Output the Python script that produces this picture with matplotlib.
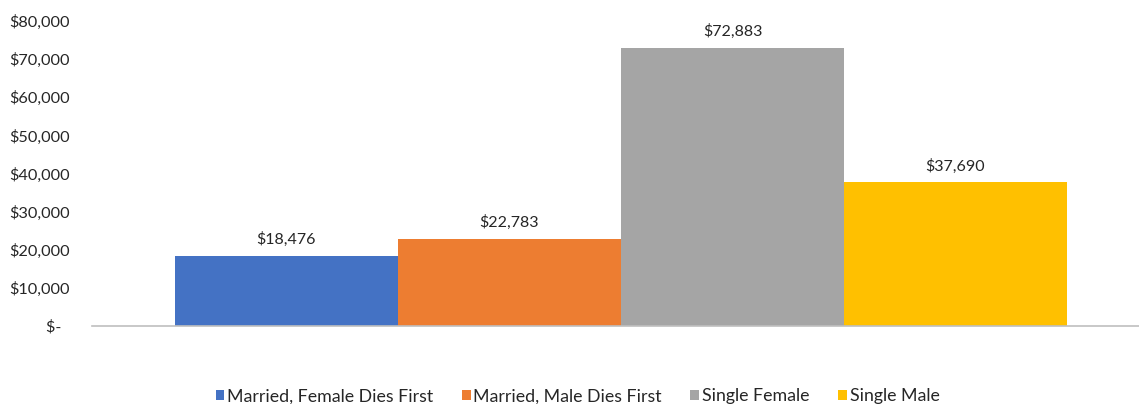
import numpy as np
import matplotlib.pyplot as plt

plt.rcParams['font.family'] = ['Lato', 'DejaVu Sans']

categories = ['Married, Female Dies First', 'Married, Male Dies First',
              'Single Female', 'Single Male']
values = [18476, 22783, 72883, 37690]
colors = ['#4472C4', '#ED7D31', '#A5A5A5', '#FFC000']
yticks = [0, 10000, 20000, 30000, 40000, 50000, 60000, 70000, 80000]
ytick_labels = ['$-  ', '$10,000', '$20,000', '$30,000', '$40,000',
                '$50,000', '$60,000', '$70,000', '$80,000']

W, H = 1139, 404
fig = plt.figure(figsize=(W / 100, H / 100), dpi=100)
ax = fig.add_axes([92 / W, (H - 326) / H, (1139 - 92) / W, (326 - 21) / H])

x = np.arange(len(categories))
for i, (cat, v, c) in enumerate(zip(categories, values, colors)):
    ax.bar(x[i], v, width=1.0, color=c, label=cat, zorder=2)
    ax.text(x[i], v + 2300, f'${v:,}', ha='center', va='bottom',
            fontsize=11.5, color='#262626')

ax.set_xlim(-0.5 - 0.372, 3.5 + 0.323)
ax.set_ylim(0, 80000)
ax.set_yticks(yticks)
ax.set_yticklabels(ytick_labels)
ax.set_xticks([])
ax.tick_params(axis='y', length=0, pad=16, labelsize=11.7, labelcolor='#262626')

for s in ['top', 'right', 'left']:
    ax.spines[s].set_visible(False)
ax.spines['bottom'].set_color('#BFBFBF')
ax.spines['bottom'].set_linewidth(1.2)
ax.spines['bottom'].set_zorder(3)

fig.legend(loc='lower center', bbox_to_anchor=(0.507, -0.04), ncol=4,
           frameon=False, fontsize=12.8, handlelength=0.5, handleheight=0.5,
           handletextpad=0.15, columnspacing=1.6, labelcolor='#262626')

fig.savefig('out.png', dpi=100)
